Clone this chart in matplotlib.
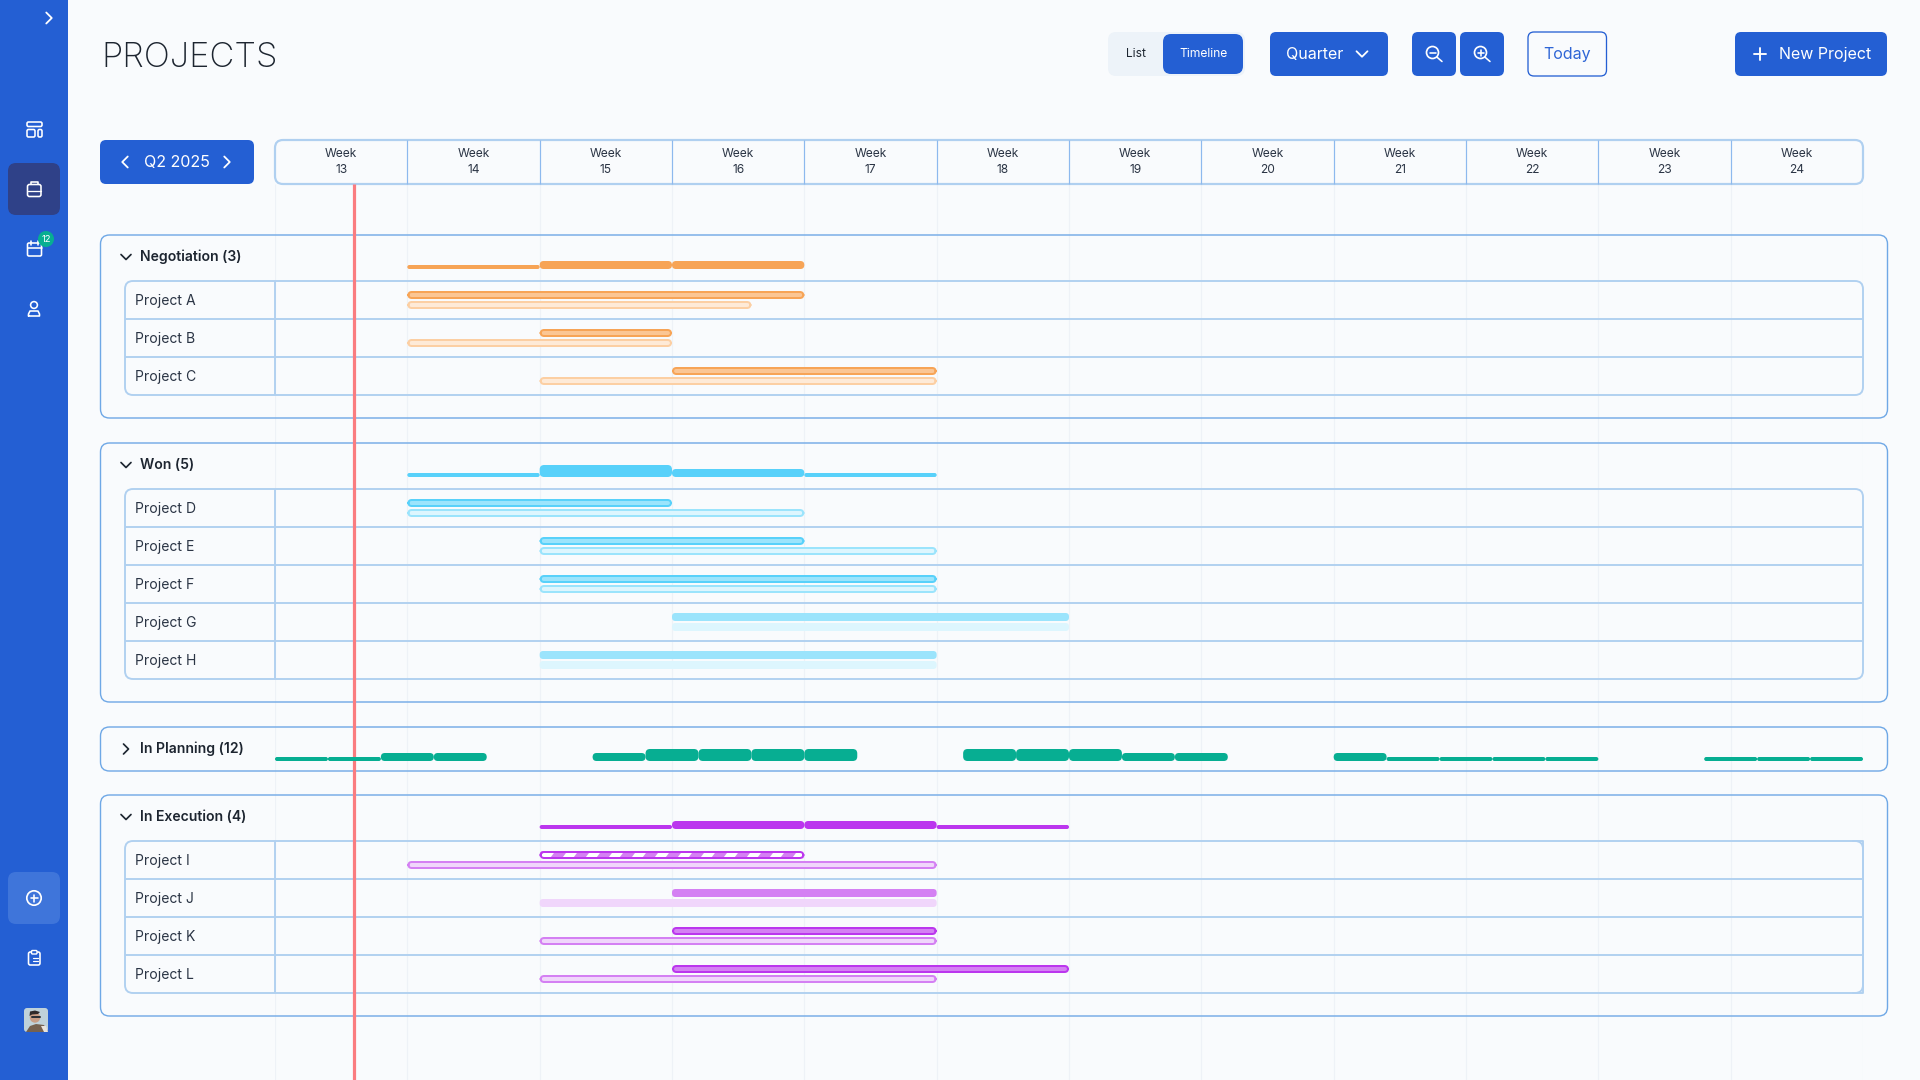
import numpy as np
import matplotlib
matplotlib.use("Agg")
import matplotlib.pyplot as plt
from matplotlib.patches import FancyBboxPatch, Circle, Polygon, Rectangle

plt.rcParams['font.family'] = ['Inter', 'DejaVu Sans']

# ---------------- data ----------------
weeks = [13, 14, 15, 16, 17, 18, 19, 20, 21, 22, 23, 24]
today_week = 13.6

negotiation_title = "Negotiation (3)"
won_title = "Won (5)"
planning_title = "In Planning (12)"
execution_title = "In Execution (4)"

negotiation_load_weeks = [14, 15, 16]
negotiation_load = [1, 2, 2]
won_load_weeks = [14, 15, 16, 17]
won_load = [1, 3, 2, 1]
execution_load_weeks = [15, 16, 17, 18]
execution_load = [1, 2, 2, 1]
planning_bin_starts = [13.0, 13.4, 13.8, 14.2,
                       15.4, 15.8, 16.2, 16.6, 17.0,
                       18.2, 18.6, 19.0, 19.4, 19.8,
                       21.0, 21.4, 21.8, 22.2, 22.6,
                       23.8, 24.2, 24.6]
planning_load = [1, 1, 2, 2,
                 2, 3, 3, 3, 3,
                 3, 3, 3, 2, 2,
                 2, 1, 1, 1, 1,
                 1, 1, 1]
planning_bin_width = 0.4

negotiation_names = ["Project A", "Project B", "Project C"]
negotiation_actual = [(14, 17), (15, 16), (16, 18)]
negotiation_plan = [(14, 16.6), (14, 16), (15, 18)]

won_names = ["Project D", "Project E", "Project F", "Project G", "Project H"]
won_actual = [(14, 16), (15, 17), (15, 18), (16, 19), (15, 18)]
won_plan = [(14, 17), (15, 18), (15, 18), (16, 19), (15, 18)]
won_styles = ["outline", "outline", "outline", "solid", "solid"]

execution_names = ["Project I", "Project J", "Project K", "Project L"]
execution_actual = [(15, 17), (16, 18), (16, 18), (16, 19)]
execution_plan = [(14, 18), (15, 18), (15, 18), (15, 18)]
execution_styles = ["hatched", "solid", "outline", "outline"]

# ---------------- colours ----------------
BG = "#F9FBFD"
BLUE = "#245FD3"
PANEL = "#6FA8E6"
TABLE = "#B0D0F0"
SEP = "#8DB9EE"
GRID = "#EEF2F7"
INK = "#1D2530"
LABEL = "#2B3545"
ORANGE = dict(strong="#F7A456", mid="#FBC694", soft="#FCCFA3", pale="#FEEAD7")
CYAN = dict(strong="#58D1FA", mid="#9BE4FC", soft="#9BE4FC", pale="#DDF6FE")
PURPLE = dict(strong="#BB36EE", mid="#D480F3", soft="#D480F3", pale="#F0D6FB")
GREEN = "#07AE92"

# ---------------- axes ----------------
fig = plt.figure(figsize=(19.2, 10.8), dpi=100, facecolor=BG)
X0, X1 = 275.0, 1863.0
PX_PER_WEEK = (X1 - X0) / len(weeks)


def week_axes(z):
    ax = fig.add_axes([X0 / 1920, 0, (X1 - X0) / 1920, 1], zorder=z)
    ax.set_xlim(weeks[0], weeks[-1] + 1)
    ax.set_ylim(1080, 0)
    ax.axis("off")
    return ax


ax_grid = week_axes(0)
ui = fig.add_axes([0, 0, 1, 1], zorder=1)
ui.set_xlim(0, 1920)
ui.set_ylim(1080, 0)
ui.axis("off")
gantt = week_axes(2)

px = 0.72  # points per pixel at 100 dpi


def box(x0, y0, x1, y1, r=6, fc="none", ec="none", lw=0, z=2, ax=ui):
    p = FancyBboxPatch((x0, y0), x1 - x0, y1 - y0, boxstyle=f"round,pad=0,rounding_size={r}",
                       fc=fc, ec=ec, lw=lw * px, zorder=z)
    ax.add_patch(p)
    return p


def line(xs, ys, c="white", lw=1.6, z=5, ax=ui, cap="round"):
    ax.plot(xs, ys, color=c, lw=lw * px, zorder=z, solid_capstyle=cap, solid_joinstyle="round")


def label(x, y, s, size, c=INK, ha="center", weight="normal", z=6, va="center"):
    ui.text(x, y, s, fontsize=size * px, color=c, ha=ha, va=va, weight=weight, zorder=z)


def chevron(x, y, d, s=4.5, c="white", lw=1.8):
    if d == "right":
        line([x - s / 2, x + s / 2, x - s / 2], [y - s, y, y + s], c, lw)
    elif d == "left":
        line([x + s / 2, x - s / 2, x + s / 2], [y - s, y, y + s], c, lw)
    else:
        line([x - s, x, x + s], [y - s / 2, y + s / 2, y - s / 2], c, lw)


# ---------------- grid + sidebar ----------------
ax_grid.vlines(weeks + [weeks[-1] + 1], 184, 1080, color=GRID, lw=1.2 * px)

ui.add_patch(Rectangle((0, 0), 68, 1080, fc=BLUE, ec="none", zorder=3))
box(8, 163, 60, 215, r=8, fc="#2F4188", z=4)
box(8, 872, 60, 924, r=8, fc="#3F75DA", z=4)
chevron(49, 18, "right", s=5.5)

# dashboard icon
box(27, 122, 42, 126.5, r=1.5, ec="white", lw=1.6, z=5)
box(27, 129.5, 35, 137, r=1.5, ec="white", lw=1.6, z=5)
box(38, 129.5, 42, 137, r=1.5, ec="white", lw=1.6, z=5)
# briefcase icon
box(27.5, 184.5, 41, 196.5, r=2, ec="white", lw=1.6, z=5)
line([31, 31, 37.5, 37.5], [184, 181.5, 181.5, 184])
line([27.5, 41], [190.5, 190.5], lw=1.3)
line([34, 34.3], [190.5, 190.5], lw=2.4)
# calendar icon
box(27.5, 243, 41.5, 256, r=1.5, ec="white", lw=1.6, z=5)
line([27.5, 41.5], [248, 248])
line([31, 31], [241, 245])
line([38, 38], [241, 245])
ui.add_patch(Circle((46, 239), 8, fc=GREEN, ec="none", zorder=6))
label(46, 239, "12", 9.5, "white", z=7)
# person icon
ui.add_patch(Circle((34, 305), 3.4, fc="none", ec="white", lw=1.6 * px, zorder=5))
line([28.5, 28.5, 30, 38, 39.5, 39.5, 28.5], [316, 314, 311, 311, 314, 316, 316])
# add icon
ui.add_patch(Circle((34, 898), 7.2, fc="none", ec="white", lw=1.7 * px, zorder=5))
line([30.5, 37.5], [898, 898])
line([34, 34], [894.5, 901.5])
# clipboard icon
box(28.5, 952, 40, 965, r=1.8, ec="white", lw=1.6, z=5)
box(31.5, 950.5, 37, 954, r=1, fc=BLUE, ec="white", lw=1.4, z=6)
line([33, 38], [957.5, 957.5], lw=1.2)
line([33, 38], [961, 961], lw=1.2)
line([30.5, 31], [957.5, 957.5], lw=1.4)
line([30.5, 31], [961, 961], lw=1.4)
# avatar
av = box(24, 1008, 48, 1032, r=3, fc="#BFD2DA", z=5)
ui.add_patch(Polygon([(26, 1032), (30, 1026), (36, 1024), (44, 1025), (48, 1032)], fc="#75614F", ec="none", zorder=6))
ui.add_patch(Circle((35, 1017.5), 5.2, fc="#C79E86", ec="none", zorder=7))
ui.add_patch(Polygon([(29.5, 1016), (30, 1011.5), (35, 1010.5), (40, 1012), (38, 1014), (32, 1014.5)], fc="#2E2A2A", ec="none", zorder=8))
line([32, 40], [1017, 1017], c="#2A3036", lw=2, z=8)
ui.add_patch(Polygon([(44, 1032), (41, 1026), (46, 1026), (48, 1032)], fc="#E8E4DE", ec="none", zorder=6))

# ---------------- top bar ----------------
label(101, 67, "PROJECTS", 34.5, INK, ha="left", weight="light", va="baseline")

box(1108, 32, 1245, 76, r=8, fc="#EDF3F9")
box(1163, 34, 1243, 74, r=8, fc=BLUE, z=3)
label(1136, 54, "List", 12, INK)
label(1203, 54, "Timeline", 12, "white")

box(1270, 32, 1388, 76, r=6, fc=BLUE)
label(1315, 54.5, "Quarter", 16, "white")
chevron(1362, 54, "down", s=5.5)

for x0, x1 in [(1412, 1456), (1460, 1504)]:
    box(x0, 32, x1, 76, r=6, fc=BLUE)
    cx = (x0 + x1) / 2 - 1.5
    ui.add_patch(Circle((cx, 52.5), 6, fc="none", ec="white", lw=1.7 * px, zorder=5))
    line([cx + 4.3, cx + 9.5], [57, 61.5])
    line([cx - 3, cx + 3], [52.5, 52.5])
line([1482 - 1.5 + 0.0, 1482 - 1.5 + 0.0], [49.5, 55.5])

box(1528, 32, 1606.5, 76, r=6, fc=BG, ec=BLUE, lw=1.3)
label(1567, 54.5, "Today", 16, "#2F66D6")

box(1735, 32, 1887, 76, r=6, fc=BLUE)
line([1754, 1766], [54, 54], lw=1.9)
line([1760, 1760], [48, 60], lw=1.9)
label(1825.5, 54.5, "New Project", 16, "white")

box(100, 140, 254, 184, r=6, fc=BLUE)
chevron(125, 162, "left", s=5.5)
chevron(227, 162, "right", s=5.5)
label(177, 162.5, "Q2 2025", 16, "white")

# ---------------- week header ----------------
box(X0, 140, X1, 184, r=8, fc=BG, ec=TABLE, lw=2.2, z=3)
for i, w in enumerate(weeks):
    cx = X0 + PX_PER_WEEK * (i + 0.5)
    if i:
        line([X0 + PX_PER_WEEK * i] * 2, [140, 184], c=SEP, lw=1.2, cap="butt")
    label(cx, 154, "Week", 12, LABEL)
    label(cx, 170, str(w), 12, LABEL)


# ---------------- panels ----------------
def panel(y0, y1, title, tx_y, open_=True):
    box(100.5, y0, 1887.5, y1, r=9, ec=PANEL, lw=1.4, z=2)
    chevron(126, tx_y, "down" if open_ else "right", s=5, c=INK, lw=1.7)
    label(140, tx_y, title, 14, INK, ha="left", weight="semibold")


def table(y0, names, square_right=False):
    h = 38
    y1 = y0 + h * len(names)
    box(125, y0, X1, y1, r=8, ec=TABLE, lw=1.9, z=2)
    for i, n in enumerate(names):
        if i:
            line([125, X1], [y0 + h * i] * 2, c=TABLE, lw=1.9, z=2, cap="butt")
        label(135, y0 + h * i + 19.5, n, 14, LABEL, ha="left")
    line([X0, X0], [y0, y1], c=TABLE, lw=1.9, z=2, cap="butt")
    if square_right:
        line([X1 - 10, X1, X1, X1 - 10], [y0, y0, y1, y1], c=TABLE, lw=1.9, z=2)


panel(235, 418, negotiation_title, 257)
table(281, negotiation_names)
panel(443, 702, won_title, 465)
table(489, won_names)
panel(727, 771, planning_title, 749, open_=False)
panel(795, 1016, execution_title, 817)
table(841, execution_names, square_right=True)

# ---------------- gantt marks ----------------
gantt.vlines(today_week, 184, 1080, color="#FA7C80", lw=3.2 * px, zorder=2)

UNIT = 4.0  # pixel height per unit of load


def rbar(start, end, y0, y1, r, fc, ec="none", lw=0.0, z=4):
    """Rounded bar: x in weeks, y in pixels."""
    inset = lw / 2 / PX_PER_WEEK
    p = FancyBboxPatch((start + inset, y0 + lw / 2), end - start - 2 * inset, y1 - y0 - lw,
                       boxstyle=f"round,pad=0,rounding_size={r / PX_PER_WEEK}",
                       mutation_aspect=PX_PER_WEEK, fc=fc, ec=ec, lw=lw * px, zorder=z)
    gantt.add_patch(p)
    return p


def load_bars(starts, loads, width, base, color):
    for s, n in zip(starts, loads):
        h = n * UNIT
        rbar(s, s + width, base - h, base, h / 2 if n == 1 else min(h / 2, 4.5), color)


def project_rows(y0, actual, plan, styles, pal):
    for i, ((a0, a1), (p0, p1), st) in enumerate(zip(actual, plan, styles)):
        ry = y0 + 38 * i
        top = (ry + 10, ry + 18)
        bot = (ry + 20, ry + 28)
        if st == "solid":
            rbar(a0, a1, *top, 3.5, pal["mid"])
            rbar(p0, p1, *bot, 3.5, pal["pale"])
        elif st == "outline":
            rbar(a0, a1, *top, 3.5, pal["mid"], pal["strong"], 2)
            rbar(p0, p1, *bot, 3.5, pal["pale"], pal["soft"], 2)
        else:
            bar = rbar(a0, a1, *top, 3.5, "white", z=4)
            for k, s in enumerate(np.arange(a0 - 0.1, a1 + 0.1, 23 / PX_PER_WEEK)):
                sl = 6 / PX_PER_WEEK
                st_w = 12 / PX_PER_WEEK
                poly = Polygon([(s, top[1]), (s + sl, top[0]), (s + sl + st_w, top[0]), (s + st_w, top[1])],
                               fc=pal["mid"], ec="none", zorder=4.2)
                gantt.add_patch(poly)
                poly.set_clip_path(bar)
            rbar(a0, a1, *top, 3.5, "none", pal["strong"], 2, z=4.5)
            rbar(p0, p1, *bot, 3.5, pal["pale"], pal["soft"], 2)


load_bars(negotiation_load_weeks, negotiation_load, 1, 269, ORANGE["strong"])
project_rows(281, negotiation_actual, negotiation_plan, ["outline"] * 3, ORANGE)

load_bars(won_load_weeks, won_load, 1, 477, CYAN["strong"])
project_rows(489, won_actual, won_plan, won_styles, CYAN)

load_bars(planning_bin_starts, planning_load, planning_bin_width, 761, GREEN)

load_bars(execution_load_weeks, execution_load, 1, 829, PURPLE["strong"])
project_rows(841, execution_actual, execution_plan, execution_styles, PURPLE)

fig.savefig("out.png", dpi=100, facecolor=BG)
